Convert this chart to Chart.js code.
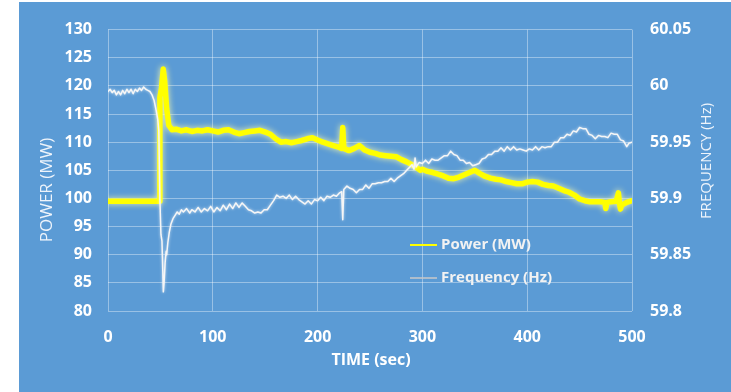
<!DOCTYPE html>
<html>
<head>
<meta charset="utf-8">
<script src="https://cdn.jsdelivr.net/npm/chart.js@4.4.1/dist/chart.umd.min.js"></script>
<style>
  html, body { margin: 0; padding: 0; background: #fff; }
  #wrap { position: absolute; left: 19px; top: 2px; width: 712px; height: 390px; background: #5b9bd5; }
</style>
</head>
<body>
<div id="wrap"><canvas id="chart" width="712" height="390"></canvas></div>
<script>
// ---------- Data ----------
const powerTime = [0, 48.5, 49, 49.5, 51, 52.7, 54, 56, 58, 61, 65, 70, 75, 80, 85, 90, 95, 100, 105, 110,
  115, 120, 125, 130, 135, 140, 145, 150, 155, 160, 165, 170, 175, 180, 185, 190, 195, 200, 205, 210,
  215, 220, 223, 224, 225, 230, 235, 240, 245, 250, 255, 260, 265, 270, 275, 280, 285, 290, 295, 298,
  300, 305, 310, 315, 320, 325, 330, 335, 340, 345, 350, 355, 360, 365, 370, 375, 380, 385, 390, 395,
  400, 405, 410, 415, 420, 425, 430, 435, 440, 445, 450, 455, 460, 465, 470, 474, 475, 476, 480, 485,
  487, 488, 489, 490, 495, 500];
const powerMW = [99.5, 99.5, 99.5, 118, 119.5, 123, 121, 116, 113, 112.2, 112.3, 112.0, 112.2, 111.9, 112.1, 112.0, 112.2, 112.0, 111.8, 112.1,
  112.2, 111.8, 111.5, 111.7, 111.9, 112.0, 112.1, 111.8, 111.4, 110.6, 110.0, 110.1, 109.9, 110.1, 110.3, 110.6, 110.8, 110.4, 110.0, 109.7,
  109.4, 109.1, 108.9, 112.6, 108.9, 108.5, 108.9, 109.4, 108.6, 108.2, 108.0, 107.7, 107.6, 107.5, 107.4, 106.9, 106.5, 106.0, 105.4, 105.0,
  105.2, 104.8, 104.6, 104.3, 104.0, 103.6, 103.5, 103.8, 104.2, 104.6, 105.0, 104.4, 103.9, 103.6, 103.4, 103.3, 103.0, 102.8, 102.6, 102.6,
  102.9, 103.0, 102.9, 102.5, 102.3, 102.2, 101.8, 101.4, 101.1, 100.6, 99.9, 99.6, 99.4, 99.4, 99.4, 99.3, 98.2, 99.3, 99.4, 99.5,
  101.0, 99.2, 98.1, 98.8, 99.3, 99.6];

const freqTime = [0, 2, 4, 6, 8, 10, 12, 14, 16, 18, 20, 22, 24, 26, 28, 30, 32, 34, 36, 38,
  40, 42, 44, 46, 47.5, 48.5, 49.5, 50.5, 51.5, 52.3, 52.8, 53.5, 54.5, 55.5, 56, 57, 58.5, 60, 62, 64,
  66, 68, 70, 72, 75, 78, 80, 83, 86, 89, 92, 95, 98, 101, 104, 107, 110, 113, 116, 119,
  122, 125, 128, 131, 134, 137, 140, 143, 146, 149, 152, 155, 158, 161, 164, 167, 170, 173, 176, 179,
  182, 185, 188, 191, 194, 197, 200, 203, 206, 209, 212, 215, 218, 221, 223, 224, 225, 228, 231, 234,
  237, 240, 243, 246, 249, 252, 255, 258, 261, 264, 267, 270, 273, 276, 279, 282, 285, 288, 290, 292,
  293, 294, 297, 300, 303, 306, 309, 312, 315, 318, 321, 324, 327, 330, 333, 336, 339, 342, 345, 348,
  351, 354, 357, 360, 363, 366, 369, 372, 375, 378, 381, 384, 387, 390, 393, 396, 399, 402, 405, 408,
  411, 414, 417, 420, 423, 426, 429, 432, 435, 438, 441, 444, 447, 450, 453, 456, 459, 462, 465, 468,
  471, 474, 477, 480, 483, 486, 489, 492, 495, 497, 500];
const freqHz = [59.995, 59.997, 59.994, 59.996, 59.992, 59.995, 59.992, 59.996, 59.993, 59.997, 59.994, 59.997, 59.993, 59.997, 59.995, 59.998, 59.996, 59.999, 59.997, 59.996,
  59.995, 59.992, 59.987, 59.978, 59.970, 59.960, 59.900, 59.868, 59.862, 59.835, 59.817, 59.825, 59.843, 59.853, 59.850, 59.860, 59.870, 59.877, 59.882, 59.885,
  59.888, 59.886, 59.890, 59.888, 59.891, 59.887, 59.890, 59.888, 59.892, 59.888, 59.891, 59.889, 59.893, 59.888, 59.892, 59.889, 59.894, 59.890, 59.895, 59.891,
  59.896, 59.892, 59.896, 59.893, 59.890, 59.889, 59.887, 59.888, 59.887, 59.890, 59.890, 59.894, 59.898, 59.903, 59.901, 59.902, 59.900, 59.903, 59.899, 59.902,
  59.899, 59.897, 59.895, 59.898, 59.895, 59.899, 59.898, 59.901, 59.898, 59.902, 59.901, 59.903, 59.902, 59.905, 59.906, 59.881, 59.908, 59.911, 59.909, 59.908,
  59.905, 59.908, 59.908, 59.912, 59.909, 59.913, 59.913, 59.914, 59.914, 59.915, 59.915, 59.918, 59.915, 59.918, 59.920, 59.922, 59.925, 59.928, 59.930, 59.926,
  59.936, 59.928, 59.932, 59.931, 59.934, 59.931, 59.935, 59.934, 59.934, 59.936, 59.938, 59.938, 59.942, 59.939, 59.938, 59.934, 59.934, 59.931, 59.932, 59.929,
  59.930, 59.931, 59.935, 59.936, 59.939, 59.939, 59.942, 59.942, 59.945, 59.942, 59.946, 59.943, 59.946, 59.943, 59.944, 59.943, 59.942, 59.944, 59.943, 59.946,
  59.943, 59.946, 59.945, 59.946, 59.946, 59.950, 59.950, 59.954, 59.954, 59.957, 59.956, 59.960, 59.959, 59.963, 59.962, 59.962, 59.957, 59.956, 59.953, 59.956,
  59.955, 59.955, 59.954, 59.958, 59.957, 59.957, 59.952, 59.951, 59.946, 59.949, 59.950];

const powerTicks = [80, 130, 5];
const freqTicks = [59.8, 60.05, 0.05];
const timeTicks = [0, 500, 100];

// ---------- Helpers ----------
function pairs(xs, ys) {
  return xs.map((x, i) => ({ x: x, y: ys[i] }));
}
const FONT = "'Open Sans', sans-serif";
const TXT = "#ffffff";
const GRID = "rgba(255,255,255,0.38)";

// ---------- Plugins ----------
const glow = {
  id: "glow",
  beforeDatasetDraw(chart, args) {
    const ds = chart.data.datasets[args.index];
    chart.ctx.save();
    chart.ctx.shadowColor = ds.glowColor;
    chart.ctx.shadowBlur = ds.glowBlur;
  },
  afterDatasetDraw(chart) {
    chart.ctx.restore();
  }
};

const insideLegend = {
  id: "insideLegend",
  afterDatasetsDraw(chart) {
    const ctx = chart.ctx;
    ctx.save();
    ctx.font = "bold 15px " + FONT;
    ctx.textBaseline = "middle";
    chart.data.datasets.forEach((ds, i) => {
      const y = 243 + i * 33;
      ctx.strokeStyle = ds.legendColor;
      ctx.lineWidth = ds.legendWidth;
      ctx.beginPath();
      ctx.moveTo(391, y);
      ctx.lineTo(418, y);
      ctx.stroke();
      ctx.fillStyle = "#f2f2f2";
      ctx.fillText(ds.label, 422, y);
    });
    ctx.restore();
  }
};

const axisTitles = {
  id: "axisTitles",
  afterDraw(chart) {
    const ctx = chart.ctx;
    ctx.save();
    ctx.fillStyle = "#eef4fb";
    ctx.textAlign = "center";
    ctx.textBaseline = "middle";
    // left
    ctx.save();
    ctx.translate(28, 188);
    ctx.rotate(-Math.PI / 2);
    ctx.font = "17px " + FONT;
    ctx.fillText("POWER (MW)", 0, 0);
    ctx.restore();
    // right
    ctx.save();
    ctx.translate(688, 159);
    ctx.rotate(-Math.PI / 2);
    ctx.font = "15px " + FONT;
    ctx.fillText("FREQUENCY (Hz)", 0, 0);
    ctx.restore();
    // bottom
    ctx.fillStyle = TXT;
    ctx.font = "bold 16px " + FONT;
    ctx.fillText("TIME (sec)", 352, 358);
    ctx.restore();
  }
};

// ---------- Chart ----------
new Chart(document.getElementById("chart"), {
  type: "line",
  data: {
    datasets: [
      {
        label: "Power (MW)",
        data: pairs(powerTime, powerMW),
        yAxisID: "yPower",
        borderColor: "#ffff00",
        borderWidth: 5.5,
        glowColor: "rgba(255,255,170,0.9)",
        glowBlur: 6,
        legendColor: "#ffff00",
        legendWidth: 2,
        order: 1
      },
      {
        label: "Frequency (Hz)",
        data: pairs(freqTime, freqHz),
        yAxisID: "yFreq",
        borderColor: "#f6f6f6",
        borderWidth: 1.5,
        glowColor: "rgba(255,255,255,0.7)",
        glowBlur: 3,
        legendColor: "#c9c9c9",
        legendWidth: 1.5,
        order: 0
      }
    ]
  },
  options: {
    responsive: false,
    animation: false,
    parsing: false,
    elements: { point: { radius: 0 }, line: { tension: 0, borderJoinStyle: "round", borderCapStyle: "round" } },
    layout: { padding: { top: 18, left: 0, right: 0, bottom: 0 } },
    plugins: { legend: { display: false }, tooltip: { enabled: false } },
    scales: {
      x: {
        type: "linear",
        min: timeTicks[0],
        max: timeTicks[1],
        afterFit(s) { s.height = 81; },
        grid: { color: GRID, drawTicks: false },
        border: { display: false },
        ticks: { stepSize: timeTicks[2], padding: 17, color: TXT, font: { family: FONT, size: 16, weight: "bold" } }
      },
      yPower: {
        position: "left",
        min: powerTicks[0],
        max: powerTicks[1],
        afterFit(s) { s.width = 89; },
        grid: { color: GRID, drawTicks: false },
        border: { display: false },
        ticks: { stepSize: powerTicks[2], padding: 16, color: TXT, font: { family: FONT, size: 16, weight: "bold" } }
      },
      yFreq: {
        position: "right",
        min: freqTicks[0],
        max: freqTicks[1],
        afterFit(s) { s.width = 99; },
        grid: { display: false, drawTicks: false },
        border: { display: false },
        ticks: {
          stepSize: freqTicks[2],
          padding: 18,
          color: TXT,
          font: { family: FONT, size: 16, weight: "bold" },
          callback: (v) => String(Number(v.toFixed(2)))
        }
      }
    }
  },
  plugins: [glow, insideLegend, axisTitles]
});
</script>
</body>
</html>
